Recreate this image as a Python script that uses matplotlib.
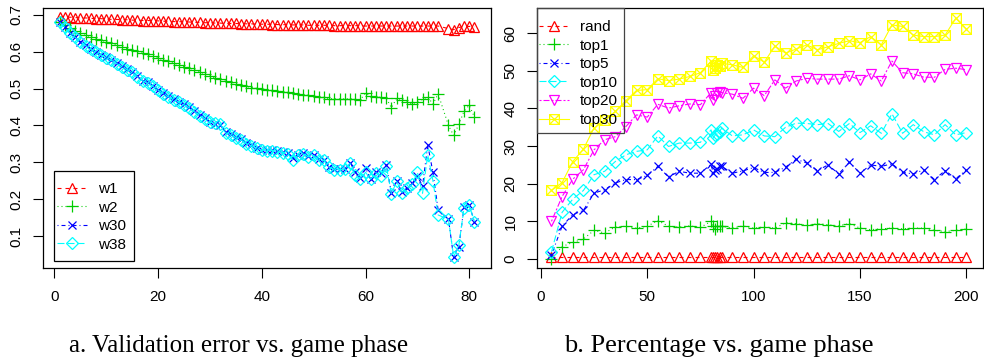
import matplotlib
matplotlib.use("Agg")
import matplotlib.pyplot as plt
from matplotlib.path import Path
from matplotlib.patches import Rectangle

plt.rcParams['font.family'] = ['Liberation Sans', 'DejaVu Sans']
plt.rcParams['lines.scale_dashes'] = False

# ---------------- data: panel a ----------------
phase_a = [1, 2, 3, 4, 5, 6, 7, 8, 9, 10,
           11, 12, 13, 14, 15, 16, 17, 18, 19, 20,
           21, 22, 23, 24, 25, 26, 27, 28, 29, 30,
           31, 32, 33, 34, 35, 36, 37, 38, 39, 40,
           41, 42, 43, 44, 45, 46, 47, 48, 49, 50,
           51, 52, 53, 54, 55, 56, 57, 58, 59, 60,
           61, 62, 63, 64, 65, 66, 67, 68, 69, 70,
           71, 72, 73, 74, 76, 77, 78, 79, 80, 81]

w1 = [0.695, 0.694, 0.694, 0.693, 0.692, 0.692, 0.691, 0.690, 0.690, 0.689,
      0.688, 0.688, 0.687, 0.687, 0.686, 0.686, 0.685, 0.685, 0.684, 0.684,
      0.683, 0.683, 0.682, 0.682, 0.681, 0.681, 0.680, 0.680, 0.679, 0.679,
      0.678, 0.678, 0.677, 0.677, 0.677, 0.676, 0.676, 0.676, 0.675, 0.675,
      0.675, 0.674, 0.674, 0.674, 0.673, 0.673, 0.673, 0.673, 0.672, 0.672,
      0.672, 0.672, 0.672, 0.671, 0.671, 0.671, 0.671, 0.671, 0.671, 0.670,
      0.670, 0.670, 0.670, 0.670, 0.670, 0.670, 0.670, 0.670, 0.670, 0.670,
      0.670, 0.670, 0.670, 0.670, 0.663, 0.660, 0.666, 0.669, 0.669, 0.668]

w2 = [0.682, 0.672, 0.664, 0.657, 0.650, 0.645, 0.641, 0.636, 0.632, 0.627,
      0.623, 0.618, 0.614, 0.609, 0.605, 0.601, 0.597, 0.594, 0.589, 0.583,
      0.578, 0.574, 0.569, 0.565, 0.560, 0.556, 0.551, 0.546, 0.540, 0.535,
      0.529, 0.526, 0.521, 0.518, 0.513, 0.509, 0.506, 0.503, 0.501, 0.499,
      0.497, 0.495, 0.493, 0.492, 0.490, 0.488, 0.485, 0.484, 0.482, 0.480,
      0.478, 0.476, 0.473, 0.472, 0.472, 0.472, 0.472, 0.471, 0.470, 0.488,
      0.479, 0.478, 0.476, 0.474, 0.448, 0.474, 0.470, 0.465, 0.458, 0.465,
      0.471, 0.478, 0.458, 0.486, 0.400, 0.373, 0.403, 0.439, 0.455, 0.423]

w30 = [0.680, 0.668, 0.652, 0.640, 0.628, 0.618, 0.608, 0.600, 0.592, 0.585,
       0.578, 0.569, 0.561, 0.553, 0.545, 0.533, 0.522, 0.517, 0.507, 0.497,
       0.487, 0.479, 0.471, 0.465, 0.457, 0.449, 0.438, 0.428, 0.419, 0.410,
       0.404, 0.401, 0.381, 0.376, 0.368, 0.362, 0.352, 0.346, 0.340, 0.334,
       0.333, 0.333, 0.330, 0.327, 0.324, 0.312, 0.320, 0.324, 0.316, 0.320,
       0.308, 0.306, 0.288, 0.281, 0.281, 0.282, 0.299, 0.275, 0.258, 0.284,
       0.254, 0.275, 0.272, 0.293, 0.216, 0.250, 0.220, 0.229, 0.243, 0.262,
       0.236, 0.347, 0.273, 0.171, 0.145, 0.042, 0.071, 0.178, 0.184, 0.139]

w38 = [0.680, 0.667, 0.651, 0.639, 0.627, 0.617, 0.607, 0.599, 0.591, 0.584,
       0.577, 0.568, 0.560, 0.552, 0.544, 0.532, 0.521, 0.516, 0.506, 0.496,
       0.486, 0.478, 0.470, 0.464, 0.456, 0.448, 0.437, 0.427, 0.418, 0.409,
       0.406, 0.404, 0.380, 0.375, 0.367, 0.361, 0.351, 0.345, 0.339, 0.333,
       0.332, 0.332, 0.329, 0.326, 0.323, 0.306, 0.319, 0.323, 0.315, 0.319,
       0.307, 0.305, 0.287, 0.280, 0.280, 0.281, 0.297, 0.265, 0.254, 0.273,
       0.254, 0.272, 0.262, 0.290, 0.214, 0.248, 0.218, 0.229, 0.240, 0.273,
       0.216, 0.320, 0.250, 0.157, 0.145, 0.043, 0.075, 0.176, 0.183, 0.139]

# ---------------- data: panel b ----------------
phase_b = [5, 10, 15, 20, 25, 30, 35, 40, 45, 50, 55, 60, 65, 70, 75,
           80, 81, 82, 83, 84, 85,
           90, 95, 100, 105, 110, 115, 120, 125, 130, 135, 140, 145, 150,
           155, 160, 165, 170, 175, 180, 185, 190, 195, 200]

rand = [0.5, 0.5, 0.5, 0.5, 0.5, 0.5, 0.5, 0.5, 0.5, 0.5, 0.5, 0.5, 0.5, 0.5, 0.5,
        0.5, 0.5, 0.5, 0.5, 0.5, 0.5,
        0.5, 0.5, 0.5, 0.5, 0.5, 0.5, 0.5, 0.5, 0.5, 0.5, 0.5, 0.5, 0.5,
        0.5, 0.5, 0.5, 0.5, 0.5, 0.5, 0.5, 0.5, 0.5, 0.5]

top1 = [0.0, 3.3, 4.4, 5.3, 7.6, 6.9, 8.5, 8.7, 8.2, 8.7, 10.2, 8.7, 8.5, 8.8, 8.4,
        10.0, 8.7, 8.0, 8.7, 8.7, 8.7,
        8.2, 8.8, 8.2, 8.5, 8.2, 9.6, 9.4, 8.9, 9.4, 9.1, 8.8, 9.4, 8.2,
        7.8, 8.0, 8.2, 8.0, 8.2, 8.2, 7.6, 7.3, 7.6, 8.0]

top5 = [1.1, 8.7, 11.8, 12.9, 17.5, 18.4, 20.2, 21.1, 21.1, 22.2, 24.6, 21.8, 23.3, 22.8, 22.8,
        25.2, 22.8, 23.7, 24.0, 24.6, 24.6,
        22.8, 23.4, 24.3, 23.0, 23.0, 24.4, 26.5, 25.5, 23.5, 25.0, 22.6, 25.7, 22.8,
        25.0, 24.6, 25.3, 23.0, 22.6, 23.7, 21.1, 23.5, 21.3, 23.7]

top10 = [1.9, 12.4, 15.9, 18.2, 22.4, 23.3, 25.9, 27.7, 28.6, 29.0, 32.7, 29.9, 30.8, 30.8, 31.0,
         34.3, 32.1, 33.0, 33.3, 33.8, 34.8,
         32.7, 33.0, 34.3, 32.7, 32.5, 35.0, 36.1, 36.0, 35.7, 36.0, 33.9, 36.0, 33.6,
         35.4, 33.4, 38.6, 33.4, 35.7, 33.8, 33.0, 35.7, 33.0, 33.6]

top20 = [10.0, 16.6, 21.2, 23.7, 29.0, 31.7, 32.5, 35.2, 38.3, 37.7, 41.1, 40.1, 40.7, 41.2, 41.0,
         44.2, 42.3, 43.2, 44.1, 44.5, 44.2,
         43.8, 42.7, 45.4, 43.4, 47.6, 45.4, 47.3, 48.0, 47.8, 47.8, 47.8, 48.7, 47.6,
         49.2, 47.3, 52.6, 49.5, 49.2, 48.3, 48.3, 50.4, 50.7, 50.3]

top30 = [18.2, 20.3, 25.9, 29.2, 34.8, 37.0, 39.2, 42.1, 44.8, 45.0, 47.9, 47.4, 47.8, 48.5, 49.5,
         52.6, 50.1, 50.7, 51.5, 51.2, 52.0,
         51.6, 50.9, 54.0, 52.3, 56.6, 54.7, 55.8, 56.9, 55.6, 56.4, 57.3, 58.0, 57.5,
         59.1, 56.9, 62.2, 61.8, 59.5, 59.1, 59.1, 59.5, 64.0, 61.1]

labels_a = ["w1", "w2", "w30", "w38"]
labels_b = ["rand", "top1", "top5", "top10", "top20", "top30"]
caption_a = "a. Validation error vs. game phase"
caption_b = "b. Percentage vs. game phase"

# ---------------- styles ----------------
RED, GREEN, BLUE, CYAN, MAG, YEL = "#FF0000", "#00CD00", "#0000FF", "#00FFFF", "#FF00FF", "#FFFF00"
sq_x = Path([(-1, -1), (1, -1), (1, 1), (-1, 1), (-1, -1), (-1, -1), (1, 1), (-1, 1), (1, -1)],
            [Path.MOVETO, Path.LINETO, Path.LINETO, Path.LINETO, Path.CLOSEPOLY,
             Path.MOVETO, Path.LINETO, Path.MOVETO, Path.LINETO])
px = 0.72  # points per pixel
styles = [
    dict(color=RED, marker="^", ms=7, dashes=(4 * px, 4 * px)),
    dict(color=GREEN, marker="+", ms=8, dashes=(1 * px, 3 * px)),
    dict(color=BLUE, marker="x", ms=6, dashes=(1 * px, 3 * px, 4 * px, 3 * px)),
    dict(color=CYAN, marker="D", ms=6, dashes=(7 * px, 3 * px)),
    dict(color=MAG, marker="v", ms=7, dashes=(2 * px, 2 * px, 6 * px, 2 * px)),
    dict(color=YEL, marker=sq_x, ms=7, dashes=None),
]

W, H = 984, 358
FS = 11
fig = plt.figure(figsize=(W / 100, H / 100), dpi=100)
ax_a = fig.add_axes([43 / W, (H - 268) / H, 448 / W, 260 / H])
ax_b = fig.add_axes([537 / W, (H - 268) / H, 446 / W, 260 / H])


def draw(ax, x, series, labels):
    handles = []
    for ys, lab, st in zip(series, labels, styles):
        kw = dict(color=st["color"], marker=st["marker"], ms=st["ms"], mfc="none",
                  mec=st["color"], mew=0.9, lw=0.8, label=lab)
        if st["dashes"] is None:
            kw["ls"] = "-"
        else:
            kw["dashes"] = st["dashes"]
        h, = ax.plot(x, ys, **kw)
        handles.append(h)
    for s in ax.spines.values():
        s.set_linewidth(0.9)
        s.set_color("black")
    ax.tick_params(axis="x", direction="out", length=7, width=0.8, labelsize=FS, pad=9)
    ax.tick_params(axis="y", direction="out", length=7, width=0.8, labelsize=FS, pad=7)
    return handles


h_a = draw(ax_a, phase_a, [w1, w2, w30, w38], labels_a)
ax_a.set_xlim(-2.2, 84.2)
ax_a.set_ylim(0.013, 0.719)
ax_a.set_xticks([0, 20, 40, 60, 80])
ax_a.set_yticks([0.1, 0.2, 0.3, 0.4, 0.5, 0.6, 0.7])
ax_a.set_yticklabels(["0.1", "0.2", "0.3", "0.4", "0.5", "0.6", "0.7"], rotation=90, va="center")

h_b = draw(ax_b, phase_b, [rand, top1, top5, top10, top20, top30], labels_b)
ax_b.set_xlim(-1.8, 207.8)
ax_b.set_ylim(-2.4, 66.7)
ax_b.set_xticks([0, 50, 100, 150, 200])
ax_b.set_yticks([0, 10, 20, 30, 40, 50, 60])
ax_b.set_yticklabels(["0", "10", "20", "30", "40", "50", "60"], rotation=90, va="center")

leg_kw = dict(fontsize=FS, labelspacing=0.3, handlelength=1.95, handletextpad=0.75,
              borderpad=0, frameon=False, borderaxespad=0, numpoints=1,
              loc="upper left", bbox_transform=fig.transFigure)
ax_a.legend(handles=h_a, bbox_to_anchor=(57 / W, 1 - 182 / H), **leg_kw)
ax_b.legend(handles=h_b, bbox_to_anchor=(539 / W, 1 - 20 / H), **leg_kw)

# R-style legend boxes (transparent)
fig.patches.append(Rectangle((54 / W, 1 - 261 / H), 80 / W, 90 / H, transform=fig.transFigure,
                             fill=False, ec="black", lw=0.9))
fig.patches.append(Rectangle((537 / W, 1 - 133 / H), 87 / W, 125 / H, transform=fig.transFigure,
                             fill=False, ec="#444444", lw=0.9))

fig.text(239 / W, 6 / H, caption_a, ha="center", va="baseline",
         family=["Liberation Serif", "DejaVu Serif"], fontsize=18)
fig.text(719 / W, 6 / H, caption_b, ha="center", va="baseline",
         family=["Liberation Serif", "DejaVu Serif"], fontsize=19)

fig.savefig("out.png", dpi=100)
